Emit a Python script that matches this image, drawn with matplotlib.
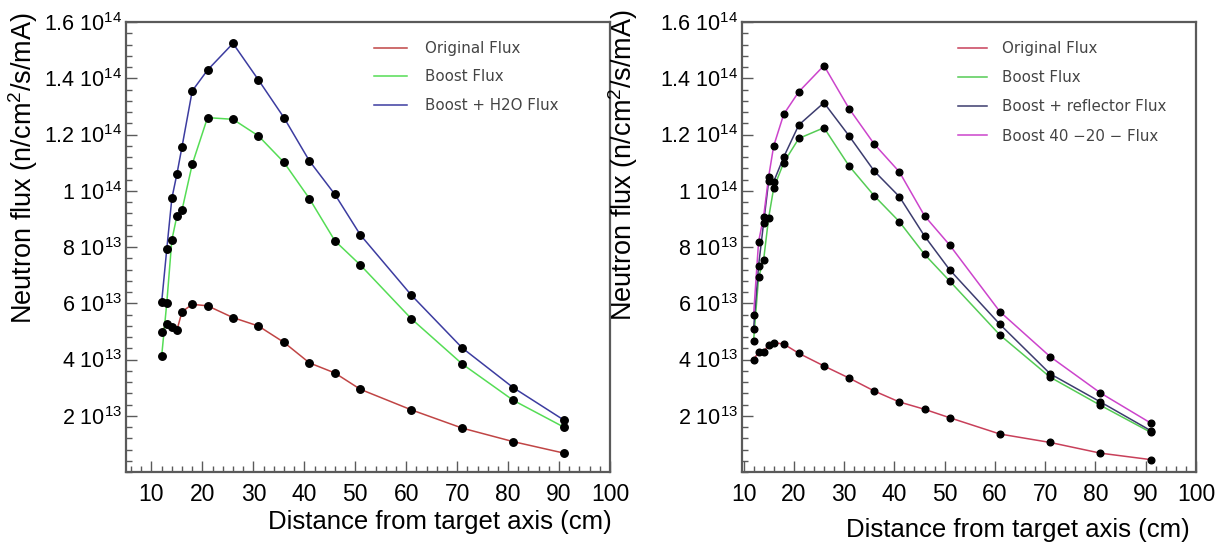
import matplotlib
matplotlib.use("Agg")
import matplotlib.pyplot as plt
from matplotlib.ticker import MultipleLocator, FixedLocator

# ---------------- data (flux in units of 1e13 n/cm2/s/mA) ----------------
SCALE = 1e13
distance_cm = [12, 13, 14, 15, 16, 18, 21, 26, 31, 36, 41, 46, 51, 61, 71, 81, 91]

left_original = [4.99, 5.26, 5.14, 5.05, 5.70, 5.96, 5.91, 5.49, 5.19, 4.61, 3.88, 3.52, 2.94, 2.21, 1.56, 1.08, 0.67]
left_boost = [4.12, 6.00, 8.25, 9.11, 9.32, 10.94, 12.60, 12.54, 11.95, 11.01, 9.72, 8.22, 7.36, 5.45, 3.84, 2.55, 1.59]
left_boost_h2o = [6.04, 7.92, 9.73, 10.60, 11.57, 13.55, 14.29, 15.24, 13.94, 12.60, 11.06, 9.87, 8.43, 6.29, 4.41, 3.00, 1.84]

right_original = [4.00, 4.26, 4.28, 4.52, 4.60, 4.55, 4.22, 3.77, 3.34, 2.88, 2.49, 2.23, 1.93, 1.35, 1.05, 0.67, 0.44]
right_boost = [4.66, 6.92, 7.54, 9.04, 10.09, 11.00, 11.86, 12.24, 10.88, 9.82, 8.90, 7.74, 6.79, 4.87, 3.37, 2.37, 1.41]
right_reflector = [5.08, 7.34, 8.86, 10.34, 10.32, 11.20, 12.34, 13.13, 11.95, 10.70, 9.79, 8.39, 7.19, 5.25, 3.49, 2.49, 1.47]
right_boost_40_20 = [5.58, 8.19, 9.08, 10.50, 11.59, 12.72, 13.52, 14.45, 12.92, 11.66, 10.67, 9.11, 8.07, 5.70, 4.10, 2.81, 1.74]

left_labels = ["Original Flux", "Boost Flux", "Boost + H2O Flux"]
right_labels = ["Original Flux", "Boost Flux", "Boost + reflector Flux", "Boost 40 \u221220 \u2212 Flux"]

y_ticks = [2e13, 4e13, 6e13, 8e13, 1e14, 1.2e14, 1.4e14, 1.6e14]
y_tick_labels = [r"2 10$^{13}$", r"4 10$^{13}$", r"6 10$^{13}$", r"8 10$^{13}$",
                 r"1 10$^{14}$", r"1.2 10$^{14}$", r"1.4 10$^{14}$", r"1.6 10$^{14}$"]
x_ticks = [10, 20, 30, 40, 50, 60, 70, 80, 90, 100]

xlabel = "Distance from target axis (cm)"
ylabel = r"Neutron flux (n/cm$^2$/s/mA)"

# ---------------- style ----------------
plt.rcParams["font.family"] = ["Liberation Sans", "DejaVu Sans"]
plt.rcParams["mathtext.fontset"] = "custom"
plt.rcParams["mathtext.rm"] = "Liberation Sans"
plt.rcParams["mathtext.it"] = "Liberation Sans:italic"
plt.rcParams["mathtext.bf"] = "Liberation Sans:bold"

FRAME = "#5a5a5a"
TICK_FS = 15.5
LABEL_FS = 18.5
YLABEL_FS = 19.5
LEG_FS = 10.8

fig = plt.figure(figsize=(12.22, 5.44), dpi=100)
W, H = 1222, 544


def make_axes(x0, x1, y0=22, y1=472):
    return fig.add_axes([x0 / W, 1 - y1 / H, (x1 - x0) / W, (y1 - y0) / H])


def style_axes(ax, xmin):
    ax.set_xlim(xmin, 100)
    ax.set_ylim(0, 1.6e14)
    ax.xaxis.set_major_locator(FixedLocator(x_ticks))
    ax.xaxis.set_minor_locator(MultipleLocator(2))
    ax.set_xticklabels([str(t) for t in x_ticks])
    ax.yaxis.set_major_locator(FixedLocator(y_ticks))
    ax.yaxis.set_minor_locator(MultipleLocator(0.4e13))
    ax.set_yticklabels(y_tick_labels)
    ax.tick_params(which="both", direction="in", top=False, right=False, color=FRAME, width=1.0)
    ax.tick_params(which="major", length=8)
    ax.tick_params(which="minor", length=4.5)
    ax.tick_params(axis="x", which="major", labelsize=TICK_FS + 1, pad=8)
    ax.tick_params(axis="y", which="major", labelsize=TICK_FS, pad=3)
    for s in ax.spines.values():
        s.set_color(FRAME)
        s.set_linewidth(1.6)


def draw(ax, series, colors, labels, msize):
    for vals, c, lab in zip(series, colors, labels):
        yv = [v * SCALE for v in vals]
        ax.plot(distance_cm, yv, color=c, lw=1.1, label=lab, zorder=2)
        ax.plot(distance_cm, yv, ls="none", marker="o", ms=msize, color="black", zorder=3)


def legend(ax, x, spacing, hl, htp):
    leg = ax.legend(loc="upper left", bbox_to_anchor=(x, 0.958), frameon=False,
                    handlelength=hl, handletextpad=htp,
                    labelspacing=spacing, borderpad=0, borderaxespad=0,
                    prop={"family": "DejaVu Sans", "size": LEG_FS})
    for t in leg.get_texts():
        t.set_color("#444444")


# ---------------- left panel ----------------
axL = make_axes(126, 610)
style_axes(axL, 5)
draw(axL, [left_original, left_boost, left_boost_h2o],
     ["#c04545", "#55dd55", "#3c3ca0"], left_labels, 5.4)
legend(axL, 0.512, 0.9, 2.2, 1.2)
axL.set_xlabel(xlabel, fontsize=LABEL_FS, ha="right", va="center")
axL.xaxis.set_label_coords(1.004, -0.111)
axL.set_ylabel(ylabel, fontsize=YLABEL_FS, ha="center", va="center")
axL.yaxis.set_label_coords(-0.213, 0.676)

# ---------------- right panel ----------------
axR = make_axes(742, 1196)
style_axes(axR, 9.7)
draw(axR, [right_original, right_boost, right_reflector, right_boost_40_20],
     ["#c8405a", "#55cc55", "#3c3c6e", "#cc44cc"], right_labels, 4.8)
legend(axR, 0.476, 0.95, 1.9, 1.0)
axR.set_xlabel(xlabel, fontsize=LABEL_FS, ha="right", va="center")
axR.xaxis.set_label_coords(0.987, -0.129)
axR.set_ylabel(ylabel, fontsize=YLABEL_FS, ha="center", va="center")
axR.yaxis.set_label_coords(-0.262, 0.682)

fig.savefig("out.png", dpi=100)
